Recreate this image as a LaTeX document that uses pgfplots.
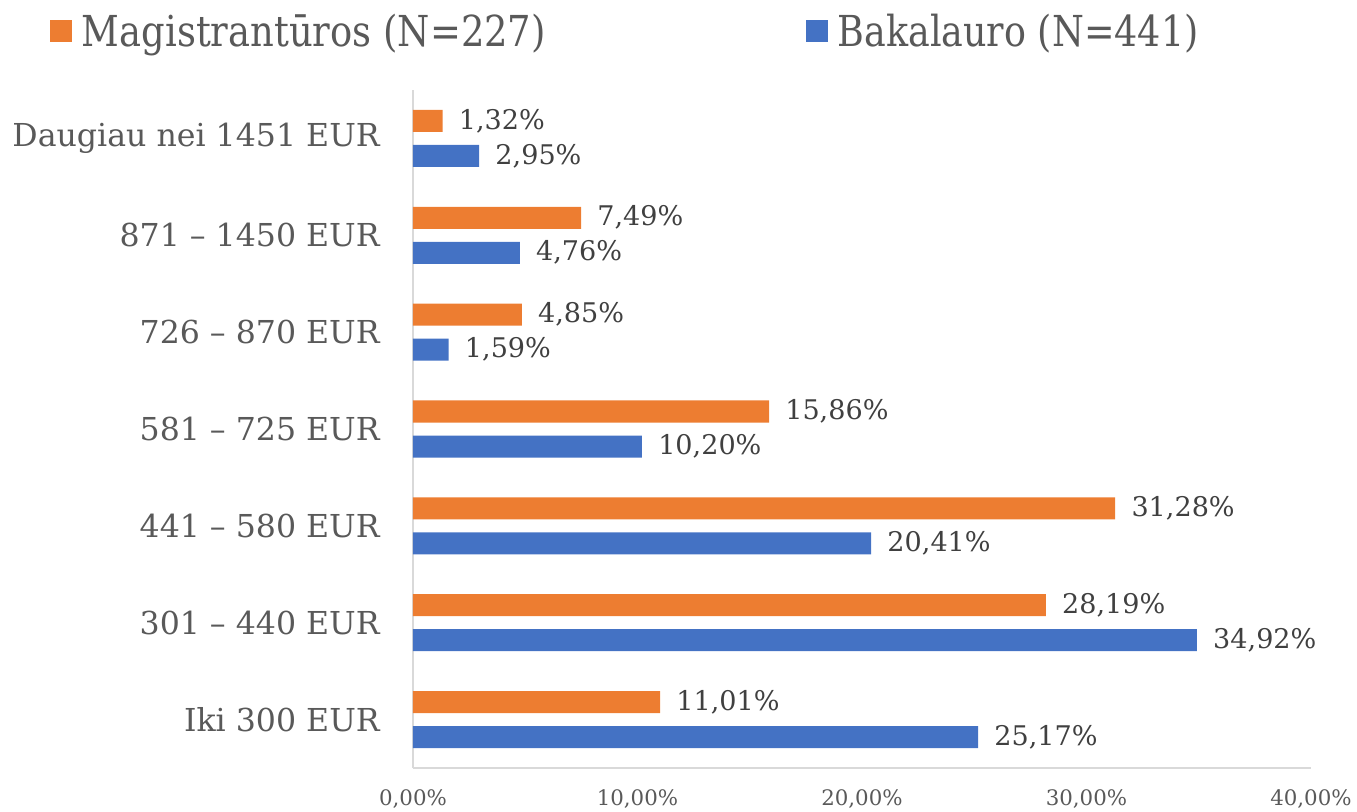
\documentclass[border=0pt]{standalone}
\usepackage{pgfplots}
\pgfplotsset{compat=1.18}
\usepackage{fontspec}
\setmainfont{DejaVu Serif}
\definecolor{cOr}{HTML}{ED7D31}
\definecolor{cBl}{HTML}{4472C4}
\definecolor{cTx}{HTML}{595959}
\definecolor{cLb}{HTML}{404040}
\definecolor{cAx}{HTML}{D9D9D9}
\begin{document}
\begin{tikzpicture}
\begin{axis}[name=ax, scale only axis, width=673.5pt, height=508.5pt,
 xmin=0, xmax=40, ymin=-0.5, ymax=6.5,
 xbar, bar width=16.5pt,
 ytick={0,1,2,3,4,5,6},
 yticklabels={Iki 300 EUR, 301 – 440 EUR, 441 – 580 EUR, 581 – 725 EUR, 726 – 870 EUR, 871 – 1450 EUR, Daugiau nei 1451 EUR},
 xtick={0,10,20,30,40},
 /pgf/number format/assume math mode=true,
 xticklabel={\pgfmathprintnumber[fixed,fixed zerofill,precision=2,use comma]{\tick}\%},
 major tick length=0pt,
 axis x line*=bottom, axis y line*=left,
 axis line style={draw=cAx, line width=1pt, -},
 xticklabel style={font=\fontsize{16}{16}\selectfont, text=cTx, anchor=north, inner sep=0pt, yshift=-16pt},
 yticklabel style={font=\fontsize{23.7}{23.7}\selectfont, text=cTx, anchor=east, inner sep=0pt, xshift=-24.75pt},
 nodes near coords={\pgfmathprintnumber[fixed,fixed zerofill,precision=2,use comma]{\pgfplotspointmeta}\%},
 point meta=x,
 nodes near coords style={font=\fontsize{20.3}{20.3}\selectfont, text=cLb, anchor=west, inner sep=0pt, xshift=12pt},
 legend columns=2,
 legend style={at={(-0.4042,1.087)}, anchor=west, draw=none, fill=none, inner sep=0pt,
   font=\fontsize{32}{32}\selectfont, text=cTx,
   /tikz/every even column/.append style={column sep=193pt}},
 legend image code/.code={\fill[#1, draw=none] (0pt,-8.25pt) rectangle (16.5pt,8.25pt);},
]
\addplot[fill=cOr, draw=none, bar shift=13.125pt] coordinates {(11.01,0) (28.19,1) (31.28,2) (15.86,3) (4.85,4) (7.49,5) (1.32,6)};
\addlegendentry{\hspace{5.25pt}\scalebox{0.865}[1]{Magistrantūros (N=227)}}
\addplot[fill=cBl, draw=none, bar shift=-13.125pt] coordinates {(25.17,0) (34.92,1) (20.41,2) (10.20,3) (1.59,4) (4.76,5) (2.95,6)};
\addlegendentry{\hspace{5.25pt}\scalebox{0.855}[1]{Bakalauro (N=441)}}
\end{axis}
\pgfresetboundingbox
\path[use as bounding box] ([shift={(-309.75pt,-32.25pt)}]ax.south west) rectangle ([shift={(34.5pt,67.5pt)}]ax.north east);
\end{tikzpicture}
\end{document}
